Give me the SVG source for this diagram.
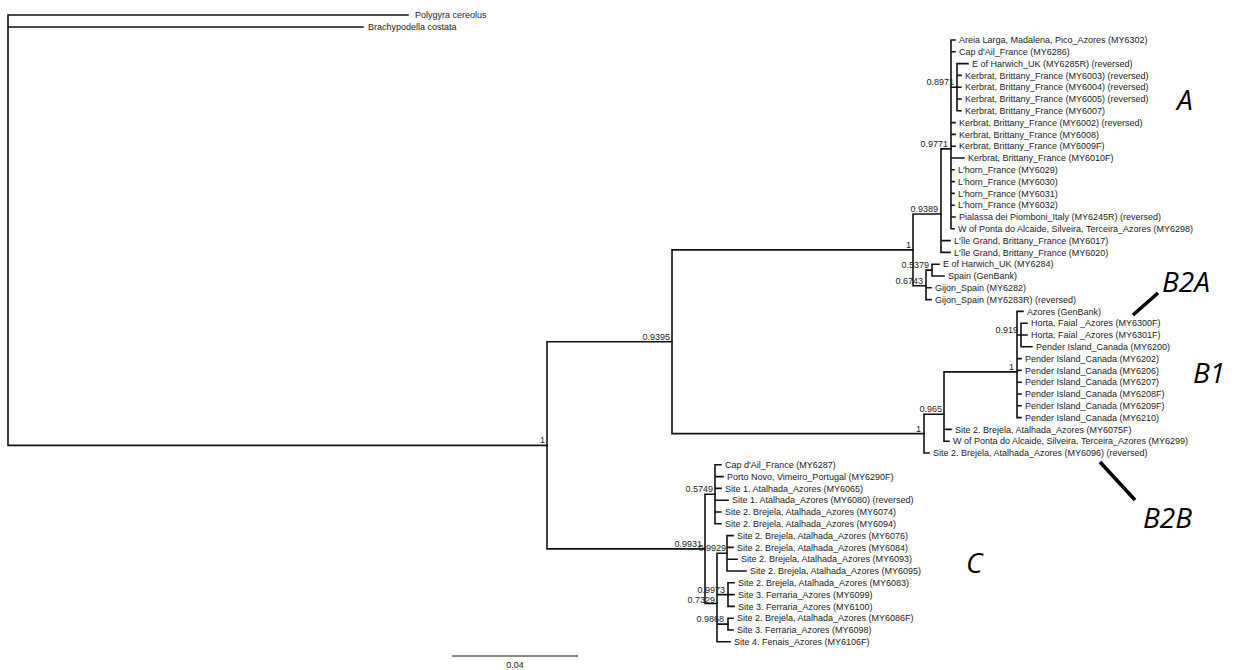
<svg xmlns="http://www.w3.org/2000/svg" width="1239" height="670" viewBox="0 0 1239 670">
<style>
.br{stroke:#111;stroke-width:1.6;fill:none;stroke-linecap:square}
text{font-family:"Liberation Sans",Arial,sans-serif;font-size:9px;fill:#222}
.nl{text-anchor:end}
.cl{font-family:"Open Sans","Liberation Sans",sans-serif;font-style:italic;font-size:28px;fill:#000}
.pt{stroke:#000;stroke-width:3.6;stroke-linecap:butt}
</style>
<rect width="1239" height="670" fill="#fff"/>
<g id="connectors" class="br">
<path d="M8 15V445.4M8 15H408M8 27H363M8 445.4H547"/>
<path d="M547 341.8V548.9M547 341.8H672M547 548.9H705"/>
<path d="M672 249.9V433.6M672 249.9H913M672 433.6H924"/>
<path d="M913 214V285.8M913 214H941M913 285.8H926"/>
<path d="M941 148.9V252.4M941 148.9H951M941 240.6H950M941 252.4H950"/>
<path d="M951 40V228.8M951 40H955M951 51.8H955M951 87.2H957M951 122.6H955M951 134.4H955M951 146.2H955M951 158H964M951 169.8H954M951 181.6H954M951 193.4H954M951 205.2H954M951 217H955M951 228.8H954"/>
<path d="M957 63.6V110.8M957 63.6H968M957 75.4H961M957 87.2H961M957 99H961M957 110.8H961"/>
<path d="M926 270.1V299.6M926 270.1H932M926 287.8H931M926 299.6H931"/>
<path d="M932 264.2V276M932 264.2H939M932 276H944"/>
<path d="M924 414.2V453M924 414.2H944M924 453H929"/>
<path d="M944 371.9V441.2M944 371.9H1017M944 429.4H951M944 441.2H949"/>
<path d="M1017 311.4V417.6M1017 311.4H1023M1017 335H1021M1017 358.6H1021M1017 370.4H1021M1017 382.2H1021M1017 394H1021M1017 405.8H1021M1017 417.6H1021"/>
<path d="M1021 323.2V346.8M1021 323.2H1027M1021 335H1027M1021 346.8H1032"/>
<path d="M705 494.3V603.5M705 494.3H715M705 603.5H717"/>
<path d="M715 464.8V523.8M715 464.8H721M715 476.6H723M715 488.4H721M715 500.2H728M715 512H721M715 523.8H721"/>
<path d="M717 553.3V641.8M717 553.3H727M717 594.6H728M717 624.1H728M717 641.8H730"/>
<path d="M727 535.6V571M727 535.6H733M727 547.4H733M727 559.2H737M727 571H746"/>
<path d="M728 582.8V606.4M728 582.8H734M728 594.6H734M728 606.4H734"/>
<path d="M728 618.2V630M728 618.2H733M728 630H733"/>
</g>
<g id="outgroups">
<g id="t-polygyra"><text x="415" y="18.2">Polygyra cereolus</text></g>
<g id="t-brachy"><text x="368" y="30.2">Brachypodella costata</text></g>
</g>
<g id="clade-A">
<g id="t0"><text x="959" y="43.2">Areia Larga, Madalena, Pico_Azores (MY6302)</text></g>
<g id="t1"><text x="959" y="55">Cap d'Ail_France (MY6286)</text></g>
<g id="t2"><text x="972" y="66.8">E of Harwich_UK (MY6285R) (reversed)</text></g>
<g id="t3"><text x="965" y="78.6">Kerbrat, Brittany_France (MY6003) (reversed)</text></g>
<g id="t4"><text x="965" y="90.4">Kerbrat, Brittany_France (MY6004) (reversed)</text></g>
<g id="t5"><text x="965" y="102.2">Kerbrat, Brittany_France (MY6005) (reversed)</text></g>
<g id="t6"><text x="965" y="114">Kerbrat, Brittany_France (MY6007)</text></g>
<g id="t7"><text x="959" y="125.8">Kerbrat, Brittany_France (MY6002) (reversed)</text></g>
<g id="t8"><text x="959" y="137.6">Kerbrat, Brittany_France (MY6008)</text></g>
<g id="t9"><text x="959" y="149.4">Kerbrat, Brittany_France (MY6009F)</text></g>
<g id="t10"><text x="968" y="161.2">Kerbrat, Brittany_France (MY6010F)</text></g>
<g id="t11"><text x="958" y="173">L'horn_France (MY6029)</text></g>
<g id="t12"><text x="958" y="184.8">L'horn_France (MY6030)</text></g>
<g id="t13"><text x="958" y="196.6">L'horn_France (MY6031)</text></g>
<g id="t14"><text x="958" y="208.4">L'horn_France (MY6032)</text></g>
<g id="t15"><text x="959" y="220.2">Pialassa dei Piomboni_Italy (MY6245R) (reversed)</text></g>
<g id="t16"><text x="958" y="232">W of Ponta do Alcaide, Silveira, Terceira_Azores (MY6298)</text></g>
<g id="t17"><text x="954" y="243.8">L'île Grand, Brittany_France (MY6017)</text></g>
<g id="t18"><text x="954" y="255.6">L'île Grand, Brittany_France (MY6020)</text></g>
<g id="t19"><text x="943" y="267.4">E of Harwich_UK (MY6284)</text></g>
<g id="t20"><text x="948" y="279.2">Spain (GenBank)</text></g>
<g id="t21"><text x="935" y="291">Gijon_Spain (MY6282)</text></g>
<g id="t22"><text x="935" y="302.8">Gijon_Spain (MY6283R) (reversed)</text></g>
</g>
<g id="clade-B">
<g id="t23"><text x="1027" y="314.6">Azores (GenBank)</text></g>
<g id="t24"><text x="1031" y="326.4">Horta, Faial _Azores (MY6300F)</text></g>
<g id="t25"><text x="1031" y="338.2">Horta, Faial _Azores (MY6301F)</text></g>
<g id="t26"><text x="1036" y="350">Pender Island_Canada (MY6200)</text></g>
<g id="t27"><text x="1025" y="361.8">Pender Island_Canada (MY6202)</text></g>
<g id="t28"><text x="1025" y="373.6">Pender Island_Canada (MY6206)</text></g>
<g id="t29"><text x="1025" y="385.4">Pender Island_Canada (MY6207)</text></g>
<g id="t30"><text x="1025" y="397.2">Pender Island_Canada (MY6208F)</text></g>
<g id="t31"><text x="1025" y="409">Pender Island_Canada (MY6209F)</text></g>
<g id="t32"><text x="1025" y="420.8">Pender Island_Canada (MY6210)</text></g>
<g id="t33"><text x="955" y="432.6">Site 2. Brejela, Atalhada_Azores (MY6075F)</text></g>
<g id="t34"><text x="953" y="444.4">W of Ponta do Alcaide, Silveira, Terceira_Azores (MY6299)</text></g>
<g id="t35"><text x="933" y="456.2">Site 2. Brejela, Atalhada_Azores (MY6096) (reversed)</text></g>
</g>
<g id="clade-C">
<g id="t36"><text x="725" y="468">Cap d'Ail_France (MY6287)</text></g>
<g id="t37"><text x="727" y="479.8">Porto Novo, Vimeiro_Portugal (MY6290F)</text></g>
<g id="t38"><text x="725" y="491.6">Site 1. Atalhada_Azores (MY6065)</text></g>
<g id="t39"><text x="732" y="503.4">Site 1. Atalhada_Azores (MY6080) (reversed)</text></g>
<g id="t40"><text x="725" y="515.2">Site 2. Brejela, Atalhada_Azores (MY6074)</text></g>
<g id="t41"><text x="725" y="527">Site 2. Brejela, Atalhada_Azores (MY6094)</text></g>
<g id="t42"><text x="737" y="538.8">Site 2. Brejela, Atalhada_Azores (MY6076)</text></g>
<g id="t43"><text x="737" y="550.6">Site 2. Brejela, Atalhada_Azores (MY6084)</text></g>
<g id="t44"><text x="741" y="562.4">Site 2. Brejela, Atalhada_Azores (MY6093)</text></g>
<g id="t45"><text x="750" y="574.2">Site 2. Brejela, Atalhada_Azores (MY6095)</text></g>
<g id="t46"><text x="738" y="586">Site 2. Brejela, Atalhada_Azores (MY6083)</text></g>
<g id="t47"><text x="738" y="597.8">Site 3. Ferraria_Azores (MY6099)</text></g>
<g id="t48"><text x="738" y="609.6">Site 3. Ferraria_Azores (MY6100)</text></g>
<g id="t49"><text x="737" y="621.4">Site 2. Brejela, Atalhada_Azores (MY6086F)</text></g>
<g id="t50"><text x="737" y="633.2">Site 3. Ferraria_Azores (MY6098)</text></g>
<g id="t51"><text x="734" y="645">Site 4. Fenais_Azores (MY6106F)</text></g>
</g>
<g id="support-values" class="nl">
<g id="n-ingroup"><text class="nl" x="545" y="443.4">1</text></g>
<g id="n9395"><text class="nl" x="670" y="339.6">0.9395</text></g>
<g id="nA"><text class="nl" x="911" y="247.9">1</text></g>
<g id="n9389"><text class="nl" x="938" y="212">0.9389</text></g>
<g id="n9771"><text class="nl" x="948" y="146.9">0.9771</text></g>
<g id="n8971"><text class="nl" x="954" y="85.2">0.8971</text></g>
<g id="n5379"><text class="nl" x="929" y="268.1">0.5379</text></g>
<g id="n6743"><text class="nl" x="923" y="283.8">0.6743</text></g>
<g id="nB"><text class="nl" x="921" y="431.6">1</text></g>
<g id="n965"><text class="nl" x="942" y="412.2">0.965</text></g>
<g id="nB1"><text class="nl" x="1014" y="369.9">1</text></g>
<g id="n919"><text class="nl" x="1018" y="333">0.919</text></g>
<g id="n9931"><text class="nl" x="702" y="546.9">0.9931</text></g>
<g id="n5749"><text class="nl" x="713" y="492.3">0.5749</text></g>
<g id="n9929"><text class="nl" x="726" y="551.3">0.9929</text></g>
<g id="n7329"><text class="nl" x="715" y="603">0.7329</text></g>
<g id="n9973"><text class="nl" x="725" y="592.6">0.9973</text></g>
<g id="n9868"><text class="nl" x="724" y="622.1">0.9868</text></g>
</g>
<g id="clade-labels">
<text class="cl" x="1177" y="110">A</text>
<line class="pt" x1="1133" y1="315" x2="1158" y2="293"/>
<text class="cl" x="1162" y="292">B2A</text>
<text class="cl" x="1193" y="383">B1</text>
<line class="pt" x1="1100" y1="462" x2="1135" y2="500"/>
<text class="cl" x="1143" y="528">B2B</text>
<text class="cl" x="966" y="573">C</text>
</g>
<g id="scale-bar">
<line x1="452" y1="656" x2="578" y2="656" stroke="#111" stroke-width="1"/>
<text x="515" y="668" text-anchor="middle">0.04</text>
</g>
</svg>
